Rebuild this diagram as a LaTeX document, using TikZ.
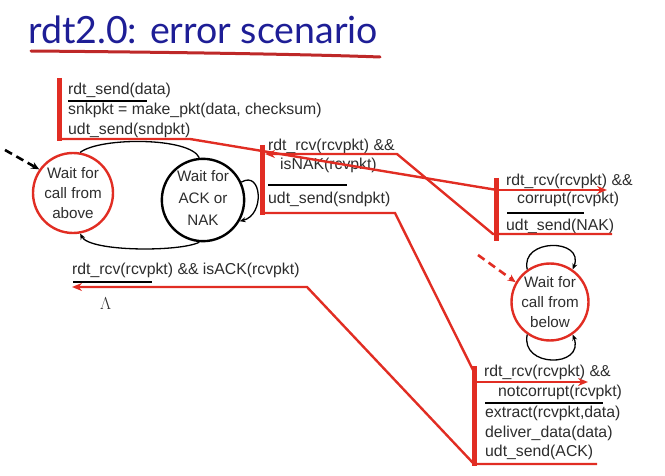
\documentclass[tikz,border=0pt]{standalone}
\usepackage{fontspec}
\setmainfont{Liberation Sans}
\newfontfamily\titlefont{Lato}
\usetikzlibrary{arrows.meta}
\definecolor{trace}{RGB}{225,45,35}
\definecolor{titleblue}{RGB}{30,30,150}
\definecolor{ink}{RGB}{45,45,45}
\definecolor{brush}{RGB}{190,40,40}

\begin{document}
\begin{tikzpicture}[x=1pt,y=-1pt,
  lbl/.style={anchor=base west, inner sep=0pt, font=\fontsize{15.8}{18}\selectfont, text=ink},
  state/.style={circle, draw, line width=2.4pt, inner sep=0pt, align=center,
                font=\fontsize{15.2}{20}\selectfont, text=ink},
  sep/.style={line width=1.4pt, black},
  bar/.style={trace, line width=5pt},
  trail/.style={trace, line width=2.4pt, line join=miter},
  trailarrow/.style={trail, -{Stealth[length=10pt,width=8pt]}},
  arc/.style={black, line width=1.3pt},
  arctip/.style={arc, -{Stealth[length=6pt,width=5pt]}},
  initarrow/.style={line width=2.6pt, dash pattern=on 8pt off 5pt, -{Stealth[length=8pt,width=7pt]}}
]
\useasboundingbox (0,0) rectangle (665,476);

% heading
\node[anchor=base west, inner sep=0pt, text=titleblue,
      font=\titlefont\fontsize{37.5}{42}\selectfont] (title) at (28,44) {rdt2.0: error scenario};
\draw[brush, line width=3pt, line cap=round] (31,51) .. controls (150,52) and (300,54) .. (380,57);

% states
\node[state, draw=trace, minimum size=80pt] (above) at (73,193) {Wait for\\call from\\above};
\node[state, draw=black, minimum size=76pt] (acknak) at (203,200) {\raisebox{5pt}{\begin{tabular}{@{}c@{}}Wait for\\[2pt]ACK or\\[2pt]NAK\end{tabular}}};
\node[state, draw=trace, minimum size=74pt] (below) at (550,302) {Wait for\\call from\\below};

% sender transitions
\draw[arc] (above.80) .. controls (100,137) and (190,137) .. (acknak.95);
\draw[arctip] (acknak.265) .. controls (180,252) and (90,252) .. (above.280);
\draw[arctip] (acknak.25) .. controls (262,170) and (265,215) .. (acknak.-30);

% receiver self loops
\draw[arctip] (below.125) .. controls (520,238) and (585,238) .. (below.55);
\draw[arctip] (below.235) .. controls (520,368) and (585,368) .. (below.-55);

% initial markers
\coordinate (initA) at (5,150);
\coordinate (initB) at (478,255);
\draw[initarrow, black] (initA) -- (above.145);
\draw[initarrow, trace] (initB) -- (below.150);

% sender: rdt_send
\node[lbl] (sendEv) at (68,95) {rdt\_send(data)};
\node[lbl] (sendA1) at (68,115) {snkpkt = make\_pkt(data, checksum)};
\node[lbl] (sendA2) at (68,135) {udt\_send(sndpkt)};
\draw[sep] (68,101) -- (147,101);

% sender: NAK received
\node[lbl] (nakEv1) at (268,151) {rdt\_rcv(rcvpkt) \&\&};
\node[lbl] (nakEv2) at (280,170) {isNAK(rcvpkt)};
\node[lbl] (nakA1) at (268,204) {udt\_send(sndpkt)};
\draw[sep] (268,185) -- (347,185);

% sender: ACK received
\node[lbl] (ackEv) at (72,275) {rdt\_rcv(rcvpkt) \&\& isACK(rcvpkt)};
\node[anchor=base west, inner sep=0pt, text=ink, font=\fontsize{18}{20}\selectfont] (lambda) at (100,309) {$\Lambda$};
\draw[sep] (73,282) -- (152,282);

% receiver: corrupt packet
\node[lbl] (corEv1) at (506,186) {rdt\_rcv(rcvpkt) \&\&};
\node[lbl] (corEv2) at (517,204) {corrupt(rcvpkt)};
\node[lbl] (corA1) at (506,231) {udt\_send(NAK)};
\draw[sep] (507,213) -- (584,213);

% receiver: good packet
\node[lbl] (okEv1) at (484,377) {rdt\_rcv(rcvpkt) \&\&};
\node[lbl] (okEv2) at (498,396) {notcorrupt(rcvpkt)};
\node[lbl] (okA1) at (485,417) {extract(rcvpkt,data)};
\node[lbl] (okA2) at (485,437) {deliver\_data(data)};
\node[lbl] (okA3) at (485,456) {udt\_send(ACK)};
\draw[sep] (485,403) -- (603,403);

% trace coordinates
\coordinate (b1t) at (59,78);   \coordinate (b1b) at (59,141);
\coordinate (b2t) at (262,145); \coordinate (b2b) at (262,215);
\coordinate (b3t) at (496,178); \coordinate (b3b) at (496,241);
\coordinate (b5t) at (474,366); \coordinate (b5b) at (474,466);
\coordinate (t1a) at (57,139);  \coordinate (t1b) at (190,139); \coordinate (t1c) at (497,190);
\coordinate (t1d) at (607,190);
\coordinate (t2a) at (262,213); \coordinate (t2b) at (395,213); \coordinate (t2c) at (474,372);
\coordinate (t2d) at (474,382); \coordinate (t2e) at (588,382);
\coordinate (t3a) at (612,234); \coordinate (t3b) at (493,234); \coordinate (t3c) at (397,154);
\coordinate (t3d) at (265,154);
\coordinate (t4a) at (597,464); \coordinate (t4b) at (474,464); \coordinate (t4c) at (307,287);
\coordinate (t4d) at (72,287);

% trace bars
\draw[bar] (b1t) -- (b1b);
\draw[bar] (b2t) -- (b2b);
\draw[bar] (b3t) -- (b3b);
\draw[bar] (b5t) -- (b5b);

% trace lines
\draw[trail] (t1a) -- (t1b) -- (t1c);
\draw[trailarrow] (t1c) -- (t1d);
\draw[trail] (t2a) -- (t2b) -- (t2c);
\draw[trailarrow] (t2d) -- (t2e);
\draw[trailarrow] (t3a) -- (t3b) -- (t3c) -- (t3d);
\draw[trailarrow] (t4a) -- (t4b) -- (t4c) -- (t4d);
\end{tikzpicture}
\end{document}
